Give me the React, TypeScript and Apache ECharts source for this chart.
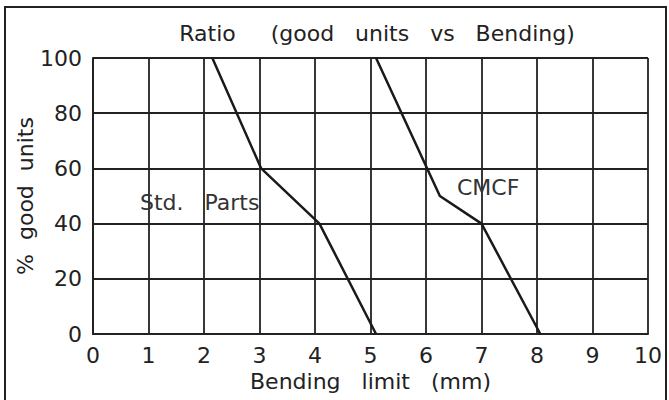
import React, { useEffect, useRef } from "react";
import * as echarts from "echarts";

const stdParts: [number, number][] = [
  [2.15, 100],
  [3.03, 60],
  [4.08, 40],
  [5.1, 0],
];
const cmcf: [number, number][] = [
  [5.1, 100],
  [6.25, 50],
  [7.0, 40],
  [8.06, 0],
];
const titleText = "Ratio     (good   units   vs   Bending)";
const xName = "Bending   limit   (mm)";
const yName = "%  good  units";
const stdLabel = "Std.   Parts";
const cmcfLabel = "CMCF";

const FONT = "DejaVu Sans";

export default function App() {
  const ref = useRef<HTMLDivElement>(null);
  useEffect(() => {
    if (!ref.current) return;
    const chart = echarts.init(ref.current, null, { renderer: "svg" });
    const lineStyle = { color: "#1a1a1a", width: 2.5 };
    chart.setOption({
      animation: false,
      backgroundColor: "#ffffff",
      title: {
        text: titleText,
        left: 372,
        textAlign: "center",
        top: 17,
        textStyle: { fontFamily: FONT, fontSize: 22, fontWeight: "normal", color: "#222" },
      },
      grid: { left: 93, right: 21, top: 58, bottom: 66 },
      xAxis: {
        type: "value",
        min: 0,
        max: 10,
        interval: 1,
        name: xName,
        nameLocation: "middle",
        nameGap: 36,
        nameMoveOverlap: false,
        nameTextStyle: { fontFamily: FONT, fontSize: 22, color: "#222" },
        axisLine: { show: true, lineStyle: { color: "#222", width: 2 } },
        axisTick: { show: false },
        axisLabel: { fontFamily: FONT, fontSize: 22, color: "#222", margin: 10 },
        splitLine: { show: true, lineStyle: { color: "#222", width: 1.8 } },
      },
      yAxis: {
        type: "value",
        min: 0,
        max: 100,
        interval: 20,
        name: yName,
        nameLocation: "middle",
        nameGap: 57,
        nameMoveOverlap: false,
        nameRotate: 90,
        nameTextStyle: { fontFamily: FONT, fontSize: 22, color: "#222" },
        axisLine: { show: true, lineStyle: { color: "#222", width: 2 } },
        axisTick: { show: false },
        axisLabel: { fontFamily: FONT, fontSize: 22, color: "#222", margin: 11 },
        splitLine: { show: true, lineStyle: { color: "#222", width: 1.8 } },
      },
      series: [
        {
          name: "Std. Parts",
          type: "line",
          data: stdParts,
          showSymbol: false,
          symbol: "none",
          lineStyle,
          z: 5,
        },
        {
          name: "CMCF",
          type: "line",
          data: cmcf,
          showSymbol: false,
          symbol: "none",
          lineStyle,
          z: 5,
        },
      ],
      graphic: [
        {
          type: "rect",
          shape: { x: 5, y: 7, width: 661, height: 400 },
          style: { fill: "none", stroke: "#222", lineWidth: 2 },
          silent: true,
        },
        {
          type: "text",
          x: 140,
          y: 202,
          style: {
            text: stdLabel,
            fontFamily: FONT,
            fontSize: 22,
            fill: "#333",
            verticalAlign: "middle",
          },
          z: 10,
        },
        {
          type: "text",
          x: 457,
          y: 187,
          style: {
            text: cmcfLabel,
            fontFamily: FONT,
            fontSize: 22,
            fill: "#333",
            verticalAlign: "middle",
          },
          z: 10,
        },
      ],
    });
    return () => chart.dispose();
  }, []);
  return <div ref={ref} style={{ width: 669, height: 400, position: "absolute", left: 0, top: 0 }} />;
}
